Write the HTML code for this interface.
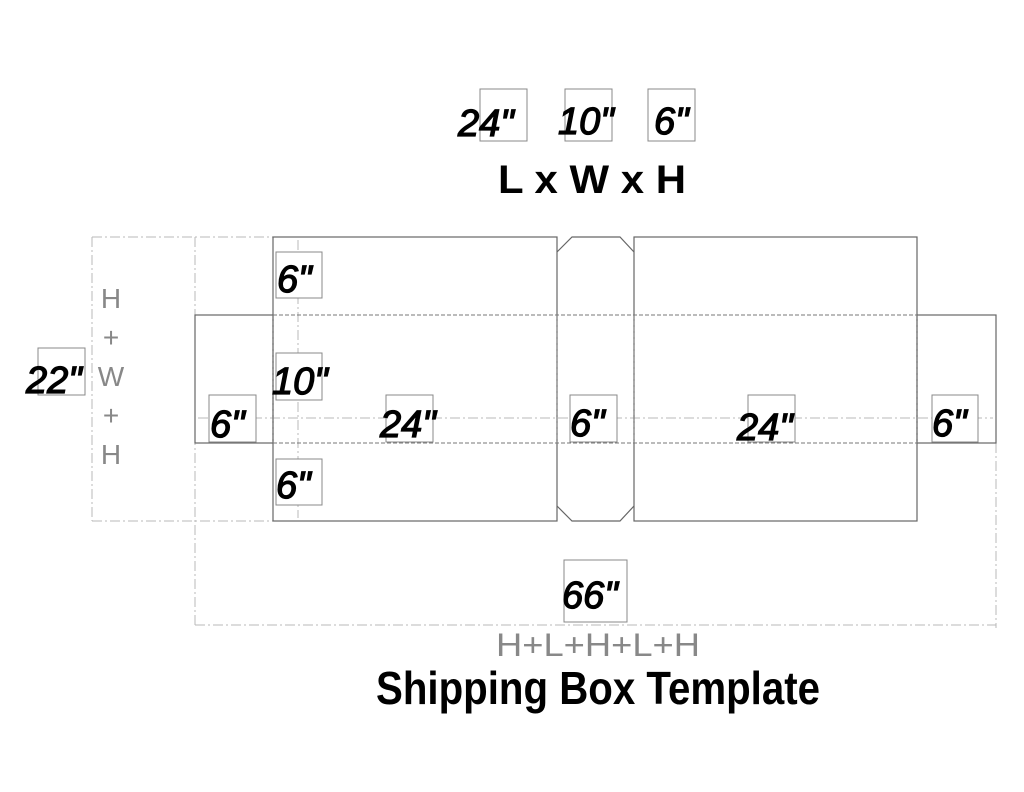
<!DOCTYPE html>
<html><head><meta charset="utf-8"><style>
html,body{margin:0;padding:0;background:#fff;}
svg{display:block}
.h{font-family:"Liberation Sans",sans-serif;font-style:italic;fill:#000;stroke:#000;stroke-width:1.3;}
</style></head><body>
<svg width="1024" height="792" viewBox="0 0 1024 792" xmlns="http://www.w3.org/2000/svg">
<g fill="none" stroke="#b8b8b8" stroke-width="1" stroke-dasharray="10,3,2,3">
 <line x1="92" y1="237" x2="273" y2="237"/>
 <line x1="92" y1="521" x2="273" y2="521"/>
 <line x1="92" y1="237" x2="92" y2="521"/>
 <line x1="195" y1="237" x2="195" y2="628"/>
 <line x1="996" y1="443" x2="996" y2="628"/>
 <line x1="195" y1="625" x2="996" y2="625"/>
 <line x1="298" y1="240" x2="298" y2="518"/>
 <line x1="198" y1="418" x2="993" y2="418"/>
</g>
<g fill="none" stroke="#666" stroke-width="1.2">
 <rect x="273" y="237" width="284" height="284"/>
 <rect x="634" y="237" width="283" height="284"/>
 <rect x="195" y="315" width="78" height="128"/>
 <rect x="917" y="315" width="79" height="128"/>
 <path d="M557,252 L572,237 L620,237 L634,252 M557,506 L572,521 L620,521 L634,506"/>
</g>
<g fill="none" stroke="#777" stroke-width="1" stroke-dasharray="4,2">
 <line x1="273" y1="315" x2="917" y2="315"/>
 <line x1="273" y1="443" x2="917" y2="443"/>
 <line x1="273" y1="315" x2="273" y2="443"/>
 <line x1="557" y1="315" x2="557" y2="443"/>
 <line x1="634" y1="315" x2="634" y2="443"/>
 <line x1="917" y1="315" x2="917" y2="443"/>
</g>
<g fill="#fff" stroke="#888" stroke-width="1">
 <rect x="480" y="89" width="47" height="52"/>
 <rect x="565" y="89" width="47" height="52"/>
 <rect x="648" y="89" width="47" height="52"/>
 <rect x="276" y="252" width="46" height="46"/>
 <rect x="276" y="353" width="46" height="47"/>
 <rect x="209" y="395" width="47" height="47"/>
 <rect x="386" y="395" width="47" height="47"/>
 <rect x="570" y="395" width="47" height="47"/>
 <rect x="748" y="395" width="47" height="47"/>
 <rect x="932" y="395" width="46" height="47"/>
 <rect x="276" y="459" width="46" height="46"/>
 <rect x="38" y="348" width="47" height="47"/>
 <rect x="564" y="560" width="63" height="62"/>
</g>
<g class="h" font-size="38">
 <text x="458" y="136">24"</text>
 <text x="558" y="134">10"</text>
 <text x="654" y="134">6"</text>
 <text x="277" y="292">6"</text>
 <text x="272" y="394">10"</text>
 <text x="210" y="437">6"</text>
 <text x="380" y="437">24"</text>
 <text x="570" y="436">6"</text>
 <text x="737" y="440">24"</text>
 <text x="932" y="436">6"</text>
 <text x="276" y="498">6"</text>
 <text x="26" y="393">22"</text>
 <text x="562" y="608">66"</text>
</g>
<g font-family="Liberation Sans,sans-serif" fill="#888" font-size="28" text-anchor="middle">
 <text x="111" y="308">H</text>
 <text x="111" y="347">+</text>
 <text x="111" y="386">W</text>
 <text x="111" y="425">+</text>
 <text x="111" y="464">H</text>
 <text x="598" y="656" font-size="32" textLength="204" lengthAdjust="spacingAndGlyphs">H+L+H+L+H</text>
</g>
<g font-family="Liberation Sans Narrow,Liberation Sans,sans-serif" font-weight="bold" fill="#000">
 <text x="498" y="193" font-size="40" textLength="188" lengthAdjust="spacingAndGlyphs">L x W x H</text>
 <text x="376" y="704" font-size="46" textLength="444" lengthAdjust="spacingAndGlyphs">Shipping Box Template</text>
</g>
</svg>
</body></html>
